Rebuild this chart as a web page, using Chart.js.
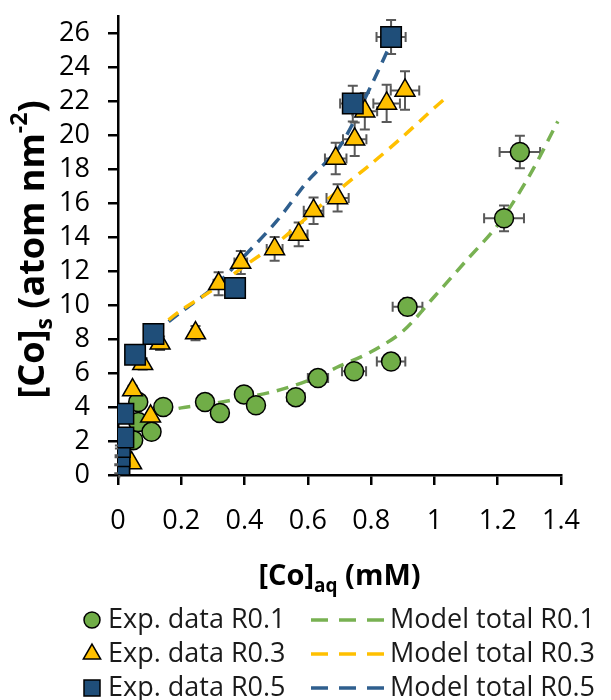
<!DOCTYPE html>
<html>
<head>
<meta charset="utf-8">
<script src="https://cdn.jsdelivr.net/npm/chart.js@4.4.0/dist/chart.umd.min.js"></script>
<style>
    html, body { margin: 0; padding: 0; background: #fff; }
</style>
</head>
<body>
<canvas id="grafico" width="611" height="700"></canvas>
<script>
// Rótulos dos eixos
const xTicks = ['0', '0.2', '0.4', '0.6', '0.8', '1', '1.2', '1.4'];
const yTicks = ['0', '2', '4', '6', '8', '10', '12', '14', '16', '18', '20', '22', '24', '26'];

// Dados experimentais R0.1 (círculos verdes)
const r01X = [0.048, 0.064, 0.064, 0.106, 0.143, 0.275, 0.322, 0.398, 0.436, 0.562, 0.632, 0.746, 0.863, 0.915, 1.22, 1.27];
const r01Y = [2.05, 3.12, 4.29, 2.54, 4.0, 4.29, 3.65, 4.74, 4.1, 4.58, 5.7, 6.1, 6.67, 9.9, 15.1, 19.0];
const r01ErrX = [0.003, 0.004, 0.004, 0.006, 0.008, 0.015, 0.017, 0.02, 0.022, 0.028, 0.032, 0.038, 0.045, 0.047, 0.063, 0.064];
const r01ErrY = [0.1, 0.15, 0.2, 0.13, 0.2, 0.21, 0.18, 0.24, 0.2, 0.23, 0.28, 0.3, 0.33, 0.5, 0.76, 0.95];

// Dados experimentais R0.3 (triângulos amarelos)
const r03X = [0.043, 0.046, 0.078, 0.103, 0.133, 0.245, 0.318, 0.388, 0.495, 0.571, 0.618, 0.694, 0.688, 0.748, 0.78, 0.849, 0.907];
const r03Y = [0.7, 5.0, 6.54, 3.45, 7.75, 8.35, 11.25, 12.5, 13.3, 14.15, 15.55, 16.3, 18.62, 19.75, 21.4, 21.86, 22.62];
const r03ErrX = [0.002, 0.002, 0.004, 0.005, 0.007, 0.012, 0.016, 0.02, 0.025, 0.028, 0.031, 0.035, 0.034, 0.037, 0.039, 0.042, 0.045];
const r03ErrY = [0.04, 0.25, 0.33, 0.17, 0.4, 0.42, 0.68, 0.68, 0.7, 0.7, 0.78, 0.8, 0.93, 0.99, 1.07, 1.1, 1.13];

// Dados experimentais R0.5 (quadrados azuis)
const r05X = [0.004, 0.004, 0.005, 0.006, 0.017, 0.017, 0.054, 0.112, 0.37, 0.742, 0.863];
const r05Y = [0.1, 0.6, 1.1, 1.65, 2.2, 3.6, 7.07, 8.3, 11.0, 21.85, 25.76];
const r05ErrX = [0, 0, 0, 0, 0.001, 0.001, 0.003, 0.006, 0.018, 0.04, 0.046];
const r05ErrY = [0.01, 0.03, 0.06, 0.09, 0.11, 0.18, 0.35, 0.42, 0.55, 1.05, 1.0];

// Curvas do modelo (tracejadas)
const m01X = [0.03, 0.06, 0.1, 0.2, 0.3, 0.4, 0.5, 0.6, 0.7, 0.8, 0.9, 1.0, 1.1, 1.2, 1.3, 1.39];
const m01Y = [2.3, 3.0, 3.45, 3.95, 4.2, 4.55, 4.95, 5.55, 6.4, 7.25, 8.45, 10.5, 12.6, 14.7, 17.6, 20.8];
const m03X = [0.11, 0.2, 0.3, 0.4, 0.5, 0.6, 0.7, 0.8, 0.9, 1.0, 1.04];
const m03Y = [8.4, 9.7, 10.9, 12.3, 13.6, 15.2, 16.8, 18.3, 19.9, 21.6, 22.25];
const m05X = [0.11, 0.2, 0.3, 0.4, 0.5, 0.6, 0.7, 0.8, 0.855];
const m05Y = [8.3, 9.6, 11.0, 12.9, 14.9, 17.3, 19.3, 22.9, 25.1];

const FONTE = '"Open Sans", "Noto Sans", sans-serif';

function pts(xs, ys) {
    return xs.map((x, i) => ({ x: x, y: ys[i] }));
}

// Barras de erro desenhadas com as escalas do Chart.js
const barrasErro = {
    id: 'barrasErro',
    beforeDatasetsDraw(chart) {
        const ctx = chart.ctx;
        const sx = chart.scales.x, sy = chart.scales.y;
        const cap = 5;
        ctx.save();
        ctx.strokeStyle = '#595959';
        ctx.lineWidth = 2;
        chart.data.datasets.forEach(ds => {
            if (!ds.errX) return;
            ds.data.forEach((p, i) => {
                const px = sx.getPixelForValue(p.x);
                const py = sy.getPixelForValue(p.y);
                const x0 = sx.getPixelForValue(p.x - ds.errX[i]);
                const x1 = sx.getPixelForValue(p.x + ds.errX[i]);
                const y0 = sy.getPixelForValue(p.y - ds.errY[i]);
                const y1 = sy.getPixelForValue(p.y + ds.errY[i]);
                ctx.beginPath();
                ctx.moveTo(x0, py); ctx.lineTo(x1, py);
                ctx.moveTo(x0, py - cap); ctx.lineTo(x0, py + cap);
                ctx.moveTo(x1, py - cap); ctx.lineTo(x1, py + cap);
                ctx.moveTo(px, y0); ctx.lineTo(px, y1);
                ctx.moveTo(px - cap, y0); ctx.lineTo(px + cap, y0);
                ctx.moveTo(px - cap, y1); ctx.lineTo(px + cap, y1);
                ctx.stroke();
            });
        });
        ctx.restore();
    }
};

// texto com sub/sobrescrito
function textoRico(ctx, partes, x, y, girar) {
    ctx.save();
    ctx.translate(x, y);
    if (girar) ctx.rotate(-Math.PI / 2);
    let total = 0;
    partes.forEach(p => {
        ctx.font = 'bold ' + p.size + 'px ' + FONTE;
        p.w = ctx.measureText(p.t).width;
        total += p.w;
    });
    let cx = -total / 2;
    ctx.fillStyle = '#000';
    ctx.textBaseline = 'alphabetic';
    ctx.textAlign = 'left';
    partes.forEach(p => {
        ctx.font = 'bold ' + p.size + 'px ' + FONTE;
        ctx.fillText(p.t, cx, p.dy);
        cx += p.w;
    });
    ctx.restore();
}

function marcador(ctx, estilo, x, y, cor) {
    ctx.beginPath();
    if (estilo === 'circle') {
        ctx.arc(x, y, 8, 0, Math.PI * 2);
    } else if (estilo === 'triangle') {
        const r = 10;
        ctx.moveTo(x, y - r);
        ctx.lineTo(x + r * 0.866, y + r / 2);
        ctx.lineTo(x - r * 0.866, y + r / 2);
        ctx.closePath();
    } else {
        ctx.rect(x - 8, y - 8, 16, 16);
    }
    ctx.fillStyle = cor;
    ctx.fill();
    ctx.lineWidth = 1.5;
    ctx.strokeStyle = '#000';
    ctx.stroke();
}

// Títulos dos eixos e legenda
const extras = {
    id: 'extras',
    afterDraw(chart) {
        const ctx = chart.ctx;
        const area = chart.chartArea;
        textoRico(ctx, [
            { t: '[Co]', size: 36, dy: 13 },
            { t: 's', size: 23, dy: 21 },
            { t: ' (atom nm', size: 36, dy: 13 },
            { t: '-2', size: 23, dy: -4 },
            { t: ')', size: 36, dy: 13 }
        ], 31, (area.top + area.bottom) / 2 + 4, true);
        textoRico(ctx, [
            { t: '[Co]', size: 29, dy: 10 },
            { t: 'aq', size: 19, dy: 17 },
            { t: ' (mM)', size: 29, dy: 10 }
        ], (area.left + area.right) / 2, 575, false);

        const linhas = [['Exp. data R0.1', 'Model total R0.1'], ['Exp. data R0.3', 'Model total R0.3'], ['Exp. data R0.5', 'Model total R0.5']];
        const ys = [620, 654, 688];
        ctx.save();
        ctx.textBaseline = 'middle';
        ctx.textAlign = 'left';
        linhas.forEach((par, i) => {
            const dsE = chart.data.datasets.find(d => d.label === par[0]);
            const dsM = chart.data.datasets.find(d => d.label === par[1]);
            const y = ys[i];
            marcador(ctx, dsE.pointStyle, 92, y, dsE.pointBackgroundColor);
            ctx.fillStyle = '#1a1a1a';
            ctx.font = '27px ' + FONTE;
            ctx.fillText(par[0], 108, y);
            ctx.beginPath();
            ctx.setLineDash([17, 11]);
            ctx.lineWidth = 3.5;
            ctx.strokeStyle = dsM.borderColor;
            ctx.moveTo(311, y);
            ctx.lineTo(386, y);
            ctx.stroke();
            ctx.setLineDash([]);
            ctx.fillText(par[1], 390, y);
        });
        ctx.restore();
    }
};

Chart.defaults.font.family = FONTE;

const ctx = document.getElementById('grafico').getContext('2d');

new Chart(ctx, {
    type: 'scatter',
    data: {
        datasets: [
            {
                label: 'Exp. data R0.5',
                data: pts(r05X, r05Y),
                errX: r05ErrX, errY: r05ErrY,
                pointStyle: 'rect',
                pointRadius: 14.5,
                pointBackgroundColor: '#1F4E79',
                pointBorderColor: '#000',
                pointBorderWidth: 1.5,
                order: 1
            },
            {
                label: 'Exp. data R0.3',
                data: pts(r03X, r03Y),
                errX: r03ErrX, errY: r03ErrY,
                pointStyle: 'triangle',
                pointRadius: 11.5,
                pointBackgroundColor: '#FFC000',
                pointBorderColor: '#000',
                pointBorderWidth: 1.5,
                order: 2
            },
            {
                label: 'Exp. data R0.1',
                data: pts(r01X, r01Y),
                errX: r01ErrX, errY: r01ErrY,
                pointStyle: 'circle',
                pointRadius: 9.5,
                pointBackgroundColor: '#70AD47',
                pointBorderColor: '#000',
                pointBorderWidth: 1.5,
                order: 3
            },
            {
                label: 'Model total R0.1',
                data: pts(m01X, m01Y),
                showLine: true,
                pointRadius: 0,
                borderColor: '#78B152',
                borderWidth: 3.5,
                borderDash: [12, 8],
                tension: 0.3,
                order: 10
            },
            {
                label: 'Model total R0.3',
                data: pts(m03X, m03Y),
                showLine: true,
                pointRadius: 0,
                borderColor: '#FFC000',
                borderWidth: 3.5,
                borderDash: [12, 8],
                tension: 0.3,
                order: 10
            },
            {
                label: 'Model total R0.5',
                data: pts(m05X, m05Y),
                showLine: true,
                pointRadius: 0,
                borderColor: '#2F5F8E',
                borderWidth: 3.5,
                borderDash: [12, 8],
                tension: 0.3,
                order: 10
            }
        ]
    },
    options: {
        responsive: false,
        animation: false,
        events: [],
        layout: { padding: { top: 14, right: 50, left: 0, bottom: 0 } },
        plugins: {
            legend: { display: false },
            tooltip: { enabled: false }
        },
        scales: {
            x: {
                type: 'linear',
                min: 0,
                max: 1.4,
                border: { display: true, color: '#000', width: 2.5 },
                grid: { drawOnChartArea: false, drawTicks: true, tickLength: 10, color: '#000', lineWidth: 2.5 },
                ticks: {
                    stepSize: 0.2,
                    autoSkip: false,
                    maxRotation: 0,
                    padding: 20,
                    color: '#000',
                    font: { size: 27 },
                    callback: v => {
                        const s = String(Math.round(v * 10) / 10);
                        return xTicks.includes(s) ? s : '';
                    }
                },
                afterFit(scale) { scale.height = 225; }
            },
            y: {
                type: 'linear',
                min: 0,
                max: 27,
                border: { display: true, color: '#000', width: 2.5 },
                grid: { drawOnChartArea: false, drawTicks: true, tickLength: 10, color: '#000', lineWidth: 2.5 },
                ticks: {
                    stepSize: 2,
                    autoSkip: false,
                    includeBounds: false,
                    padding: 18,
                    color: '#000',
                    font: { size: 27 },
                    callback: v => {
                        const s = String(Math.round(v));
                        return yTicks.includes(s) ? s : '';
                    }
                },
                afterFit(scale) {
                    scale.width = 118;
                    scale.paddingTop = 0;
                    scale.paddingBottom = 0;
                }
            }
        }
    },
    plugins: [barrasErro, extras]
});
</script>
</body>
</html>
